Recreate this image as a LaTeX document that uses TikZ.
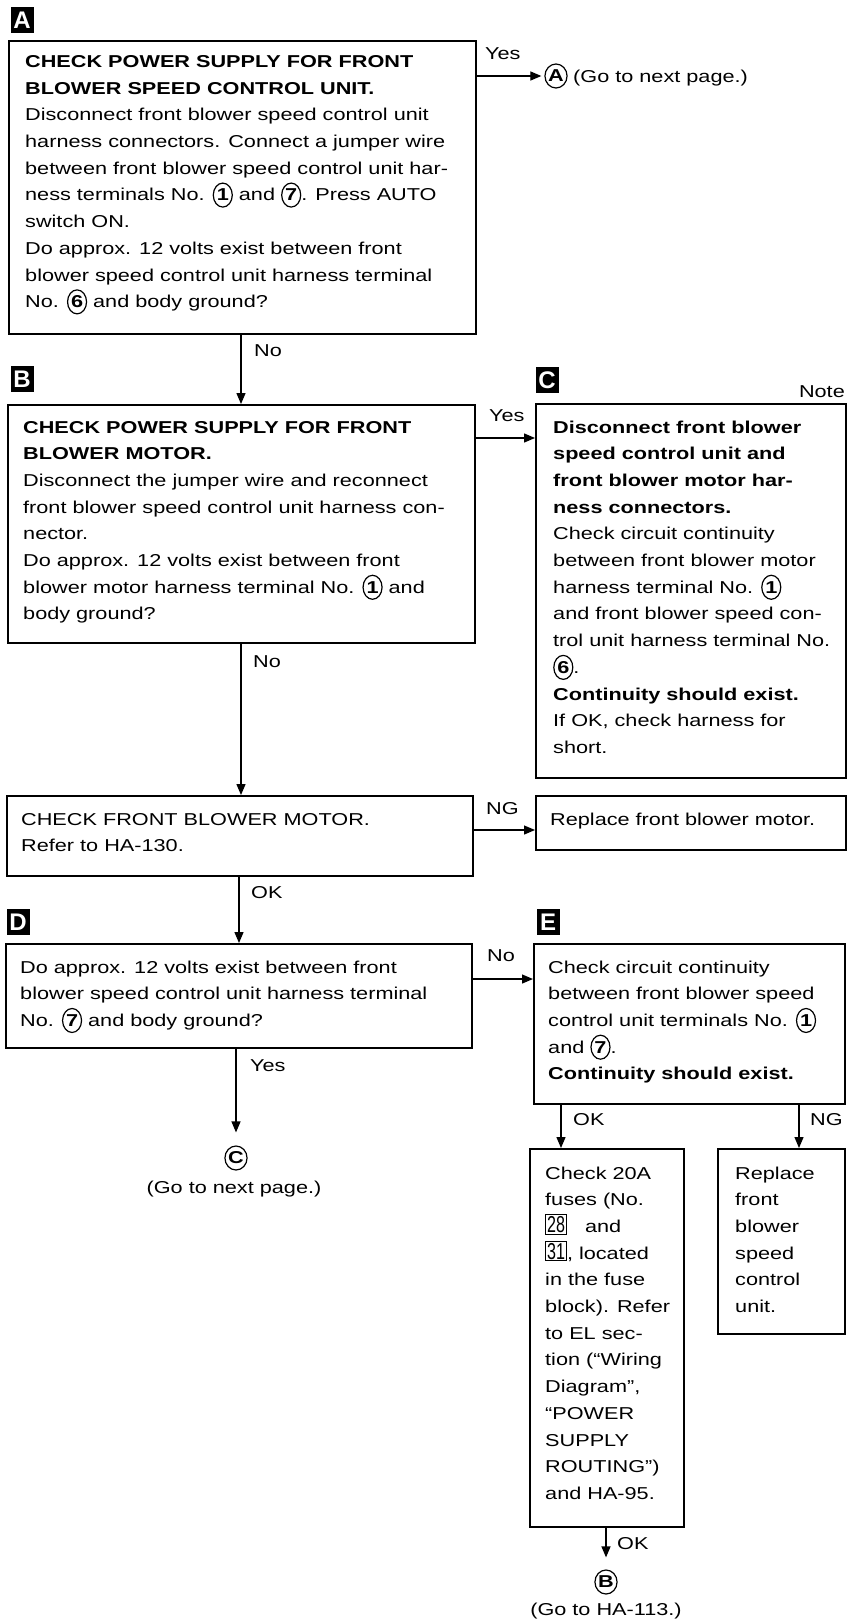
\documentclass[tikz,border=0pt]{standalone}
\usepackage{fontspec}
\setmainfont[FakeStretch=1.26]{Liberation Sans}
\usetikzlibrary{arrows.meta,shapes.geometric}
\newcommand\fs{\fontsize{17.2pt}{26.7pt}\selectfont}
\newcommand\cn[1]{\tikz[baseline=(cnum.base)]\node[ellipse,draw,line width=1.2pt,minimum width=19pt,minimum height=24pt,inner sep=0pt](cnum){\bfseries #1};}
\newcommand\bxn[1]{\tikz[baseline=(bnum.base)]\node[draw,line width=0.9pt,inner xsep=1.5pt,inner ysep=1.5pt](bnum){\fontsize{23pt}{23pt}\selectfont\addfontfeature{FakeStretch=0.7}#1};}
\newcommand\lns[1]{\begin{tabular}[t]{@{}l@{}}#1\end{tabular}}
\tikzset{
  box/.style={draw,line width=1.6pt,anchor=north west,inner sep=0pt},
  lbl/.style={fill=black,text=white,minimum width=23pt,minimum height=26pt,inner sep=0pt,
    font=\fontsize{24pt}{24pt}\selectfont\bfseries\addfontfeature{FakeStretch=1}},
  txt/.style={anchor=base west,inner sep=0pt,font=\fs},
  ctxt/.style={anchor=base,inner sep=0pt,font=\fs},
  arr/.style={line width=1.3pt,-{Triangle[length=11pt,width=9pt]}},
  circ/.style={ellipse,draw,line width=1.2pt,minimum width=20pt,minimum height=24pt,inner sep=0pt,font=\fs\bfseries},
}
\begin{document}
\begin{tikzpicture}[x=1pt,y=-1pt]
\useasboundingbox (0,0) rectangle (860,1621);
\fill[white] (0,0) rectangle (860,1621);

% step labels
\node[lbl] (LA) at (22,20) {A};
\node[lbl] (LB) at (22,379) {B};
\node[lbl] (LC) at (547,380) {C};
\node[lbl] (LD) at (18,922) {D};
\node[lbl] (LE) at (548,922) {E};
\node[anchor=base east,inner sep=0pt,font=\fs] (note) at (845,397) {Note};

% boxes
\node[box,minimum width=467pt,minimum height=293pt] (A) at (8,40) {};
\node[box,minimum width=467pt,minimum height=238pt] (B) at (7,404) {};
\node[box,minimum width=310pt,minimum height=374pt] (C) at (535,403) {};
\node[box,minimum width=466pt,minimum height=80pt] (M) at (6,795) {};
\node[box,minimum width=310pt,minimum height=54pt] (RM) at (535,795) {};
\node[box,minimum width=466pt,minimum height=104pt] (D) at (5,943) {};
\node[box,minimum width=311pt,minimum height=160pt] (E) at (533,943) {};
\node[box,minimum width=154pt,minimum height=378pt] (F) at (529,1148) {};
\node[box,minimum width=127pt,minimum height=185pt] (RU) at (717,1148) {};

% box texts
\node[txt] (tA) at (25,67.5) {\lns{%
\textbf{CHECK POWER SUPPLY FOR FRONT}\\
\textbf{BLOWER SPEED CONTROL UNIT.}\\
Disconnect front blower speed control unit\\
harness connectors. Connect a jumper wire\\
between front blower speed control unit har-\\
ness terminals No. \cn{1} and \cn{7}. Press AUTO\\
switch ON.\\
Do approx. 12 volts exist between front\\
blower speed control unit harness terminal\\
No. \cn{6} and body ground?}};

\node[txt] (tB) at (23,433) {\lns{%
\textbf{CHECK POWER SUPPLY FOR FRONT}\\
\textbf{BLOWER MOTOR.}\\
Disconnect the jumper wire and reconnect\\
front blower speed control unit harness con-\\
nector.\\
Do approx. 12 volts exist between front\\
blower motor harness terminal No. \cn{1} and\\
body ground?}};

\node[txt] (tC) at (553,433) {\lns{%
\textbf{Disconnect front blower}\\
\textbf{speed control unit and}\\
\textbf{front blower motor har-}\\
\textbf{ness connectors.}\\
Check circuit continuity\\
between front blower motor\\
harness terminal No. \cn{1}\\
and front blower speed con-\\
trol unit harness terminal No.\\
\cn{6}.\\
\textbf{Continuity should exist.}\\
If OK, check harness for\\
short.}};

\node[txt] (tM) at (21,825) {\lns{%
CHECK FRONT BLOWER MOTOR.\\
Refer to HA-130.}};

\node[txt] (tRM) at (550,825) {Replace front blower motor.};

\node[txt] (tD) at (20,973) {\lns{%
Do approx. 12 volts exist between front\\
blower speed control unit harness terminal\\
No. \cn{7} and body ground?}};

\node[txt] (tE) at (548,973) {\lns{%
Check circuit continuity\\
between front blower speed\\
control unit terminals No. \cn{1}\\
and \cn{7}.\\
\textbf{Continuity should exist.}}};

\node[txt] (tF) at (545,1179) {\lns{%
Check 20A\\
fuses (No.\\
\bxn{28}~~ and\\
\bxn{31}, located\\
in the fuse\\
block). Refer\\
to EL sec-\\
tion (“Wiring\\
Diagram”,\\
“POWER\\
SUPPLY\\
ROUTING”)\\
and HA-95.}};

\node[txt] (tRU) at (735,1179) {\lns{%
Replace\\
front\\
blower\\
speed\\
control\\
unit.}};

% off-page connectors
\node[circ] (cA) at (556,76) {A};
\node[txt] (gA) at (573,83) {(Go to next page.)};
\node[circ] (cC) at (236,1158) {C};
\node[ctxt] (gC) at (234,1193) {(Go to next page.)};
\node[circ] (cB) at (606,1582) {B};
\node[ctxt] (gB) at (606,1615) {(Go to HA-113.)};

% coordinates for connector lines
\coordinate (xAB) at (241,0);
\coordinate (yBC) at (0,438);
\coordinate (xBM) at (241,0);
\coordinate (yMR) at (0,830);
\coordinate (xMD) at (239,0);
\coordinate (yDE) at (0,979);
\coordinate (xEF) at (561,0);
\coordinate (xER) at (799,0);

% connectors
\draw[arr,shorten >=3pt] (cA -| A.east) -- (cA.west);
\draw[arr] (A.south -| xAB) -- (B.north -| xAB);
\draw[arr] (B.east |- yBC) -- (C.west |- yBC);
\draw[arr] (B.south -| xBM) -- (M.north -| xBM);
\draw[arr] (M.east |- yMR) -- (RM.west |- yMR);
\draw[arr] (M.south -| xMD) -- (D.north -| xMD);
\draw[arr] (D.east |- yDE) -- (E.west |- yDE);
\draw[arr,shorten >=13pt] (D.south -| cC) -- (cC.north);
\draw[arr] (E.south -| xEF) -- (F.north -| xEF);
\draw[arr] (E.south -| xER) -- (RU.north -| xER);
\draw[arr,shorten >=12pt] (F.south -| cB) -- (cB.north);

% connector labels
\node[txt] (yesA) at (485,60) {Yes};
\node[txt] (noA) at (254,356) {No};
\node[txt] (yesB) at (489,421) {Yes};
\node[txt] (noB) at (253,667) {No};
\node[txt] (ngM) at (486,814) {NG};
\node[txt] (okM) at (251,898) {OK};
\node[txt] (noD) at (487,961) {No};
\node[txt] (yesD) at (250,1071) {Yes};
\node[txt] (okE) at (573,1125) {OK};
\node[txt] (ngE) at (810,1125) {NG};
\node[txt] (okF) at (617,1549) {OK};
\end{tikzpicture}
\end{document}
